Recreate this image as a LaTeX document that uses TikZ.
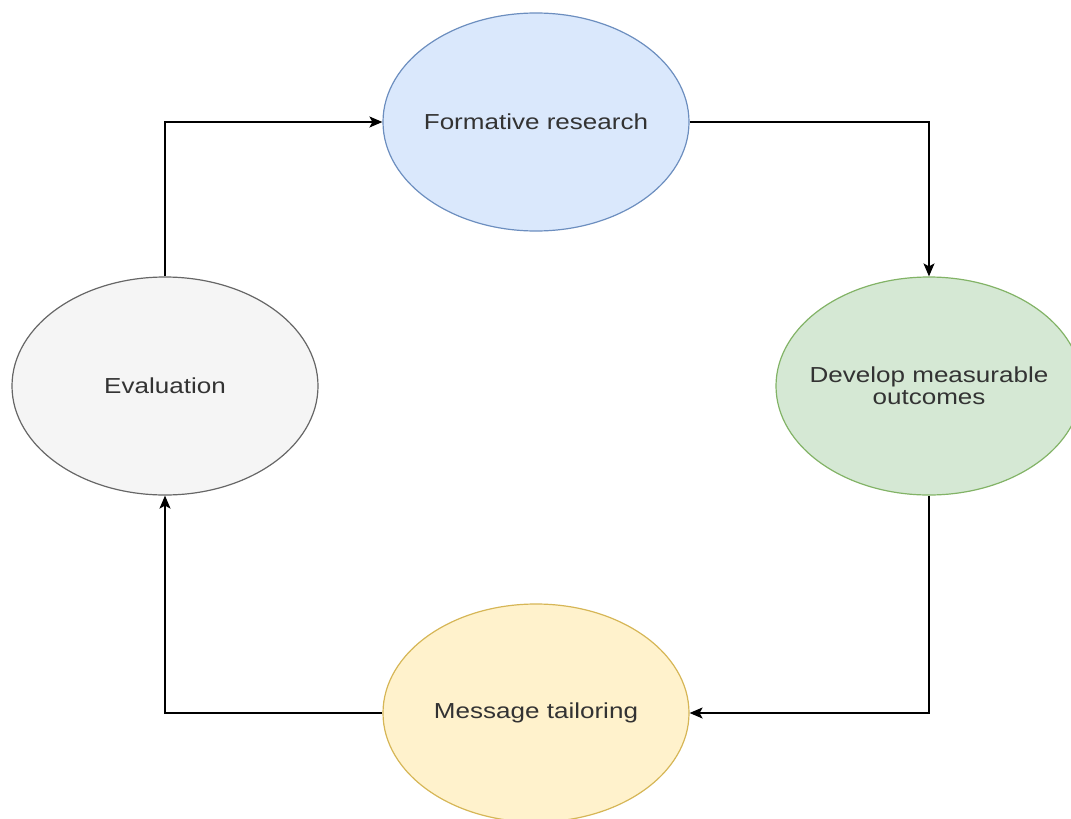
\documentclass[tikz,border=0pt]{standalone}
\usepackage{fontspec}
\usetikzlibrary{shapes.geometric,arrows.meta}
\newfontfamily\labfont[FakeStretch=1.2]{Liberation Sans}
\definecolor{bluefill}{HTML}{DAE8FC}\definecolor{bluedraw}{HTML}{6C8EBF}
\definecolor{greenfill}{HTML}{D5E8D4}\definecolor{greendraw}{HTML}{82B366}
\definecolor{yellowfill}{HTML}{FFF2CC}\definecolor{yellowdraw}{HTML}{D6B656}
\definecolor{grayfill}{HTML}{F5F5F5}\definecolor{graydraw}{HTML}{666666}
\definecolor{txt}{HTML}{333333}
\tikzset{
  stage/.style={ellipse, minimum width=306pt, minimum height=218pt, inner sep=0pt,
    line width=1.2pt},
  stagetext/.style={text=txt, align=center, inner sep=0pt, font=\labfont\fontsize{21.7}{22}\selectfont},
  flow/.style={line width=1.5pt, -{Stealth[length=13pt,width=11pt,inset=3pt]}}
}
\begin{document}
\begin{tikzpicture}[x=1pt,y=-1pt]
\useasboundingbox (0,0) rectangle (1071,819);
\clip (0,0) rectangle (1071,819);
\node[stage, fill=bluefill, draw=bluedraw] (form) at (536,122) {};
\node[stage, fill=greenfill, draw=greendraw] (dev) at (929,386) {};
\node[stage, fill=yellowfill, draw=yellowdraw] (msg) at (536,713) {};
\node[stage, fill=grayfill, draw=graydraw] (eval) at (165,386) {};
\node[stagetext] (formt) at (form.center) {Formative research};
\node[stagetext] (devt) at (dev.center) {Develop measurable\\outcomes};
\node[stagetext] (msgt) at (msg.center) {Message tailoring};
\node[stagetext] (evalt) at (eval.center) {Evaluation};
\draw[flow] (eval.north) |- (form.west);
\draw[flow] (form.east) -| (dev.north);
\draw[flow] (dev.south) |- (msg.east);
\draw[flow] (msg.west) -| (eval.south);
\end{tikzpicture}
\end{document}
